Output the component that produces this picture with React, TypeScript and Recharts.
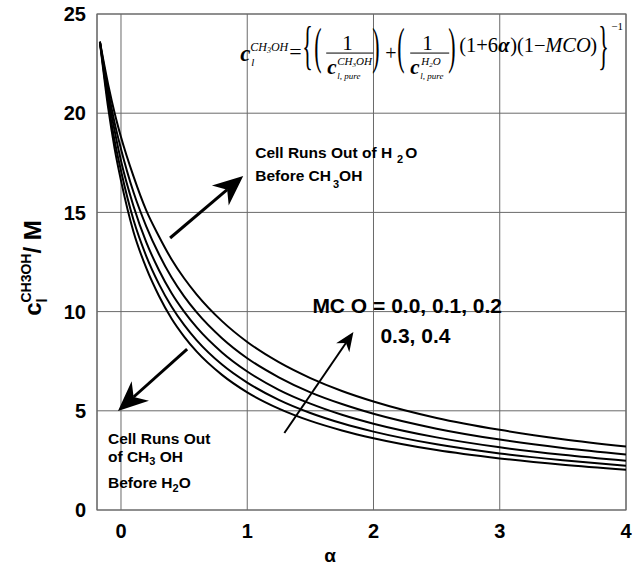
import { CartesianGrid, Line, LineChart, ReferenceArea, ReferenceDot, ReferenceLine, XAxis, YAxis } from "recharts";

// alpha values and c_l^CH3OH (M) for each MCO curve
const alpha = [-0.167, -0.1, -0.05, 0, 0.1, 0.2, 0.3, 0.4, 0.5, 0.6, 0.8, 1, 1.25, 1.5, 1.75, 2, 2.5, 3, 3.5, 4];
const mco00 = [23.6, 20.2, 18.2, 16.6, 14.0, 12.2, 10.8, 9.65, 8.74, 7.98, 6.81, 5.93, 5.11, 4.49, 4.01, 3.62, 3.02, 2.6, 2.28, 2.03];
const mco01 = [23.6, 20.5, 18.6, 17.1, 14.6, 12.8, 11.4, 10.26, 9.33, 8.55, 7.33, 6.42, 5.55, 4.89, 4.37, 3.95, 3.31, 2.85, 2.51, 2.23];
const mco02 = [23.6, 20.8, 19.1, 17.6, 15.3, 13.5, 12.1, 10.94, 10.0, 9.2, 7.94, 6.98, 6.06, 5.36, 4.8, 4.35, 3.66, 3.16, 2.78, 2.48];
const mco03 = [23.6, 21.1, 19.5, 18.2, 16.0, 14.3, 12.9, 11.73, 10.77, 9.96, 8.66, 7.65, 6.69, 5.93, 5.34, 4.85, 4.1, 3.55, 3.13, 2.8];
const mco04 = [23.6, 21.4, 20.0, 18.8, 16.8, 15.1, 13.8, 12.64, 11.68, 10.86, 9.52, 8.47, 7.45, 6.65, 6.0, 5.47, 4.64, 4.04, 3.57, 3.2];

const xTicks = [0, 1, 2, 3, 4];
const yTicks = [0, 5, 10, 15, 20, 25];
const seriesKeys = ["mco00", "mco01", "mco02", "mco03", "mco04"];

const chartData = alpha.map((a, i) => ({
  a,
  mco00: mco00[i],
  mco01: mco01[i],
  mco02: mco02[i],
  mco03: mco03[i],
  mco04: mco04[i],
}));

const SANS = "Liberation Sans, Arial, Helvetica, sans-serif";
const SERIF = "Liberation Serif, Times New Roman, serif";
const GRID = "#6a6a6a";

function arrow(width: number, len: number, half: number) {
  return (p: any) => {
    const { x1, y1, x2, y2 } = p;
    const dx = x2 - x1;
    const dy = y2 - y1;
    const l = Math.hypot(dx, dy) || 1;
    const ux = dx / l;
    const uy = dy / l;
    const nx = -uy;
    const ny = ux;
    const bx = x2 - ux * len;
    const by = y2 - uy * len;
    const kx = x2 - ux * len * 0.7;
    const ky = y2 - uy * len * 0.7;
    const pts = [
      [x2, y2],
      [bx + nx * half, by + ny * half],
      [kx, ky],
      [bx - nx * half, by - ny * half],
    ]
      .map((q) => q.join(","))
      .join(" ");
    return (
      <g>
        <line x1={x1} y1={y1} x2={kx} y2={ky} stroke="#000" strokeWidth={width} />
        <polygon points={pts} fill="#000" />
      </g>
    );
  };
}

function Tall({ x, y, ch, sy }: { x: number; y: number; ch: string; sy: number }) {
  return (
    <text transform={`translate(${x},${y}) scale(1,${sy})`} fontFamily={SERIF} fontSize={22} fill="#000">
      {ch}
    </text>
  );
}

function Formula(p: any) {
  const ox = p.cx - 232;
  const oy = p.cy - 55;
  const it = { fontFamily: SERIF, fontStyle: "italic" as const, fill: "#000" };
  const rm = { fontFamily: SERIF, fill: "#000" };
  return (
    <g transform={`translate(${ox},${oy})`}>
      <text x={240} y={61} {...it} fontWeight="bold" fontSize={23}>c</text>
      <text x={251} y={66} {...it} fontSize={11}>l</text>
      <text x={250} y={51} {...it} fontSize={12}>
        CH<tspan fontSize={8} dy={2}>3</tspan>
        <tspan dy={-2}>OH</tspan>
      </text>
      <text x={289} y={59} {...rm} fontSize={22}>=</text>
      <Tall x={302} y={63} ch="{" sy={2.4} />
      <Tall x={314} y={63} ch="(" sy={2.35} />
      <text x={342} y={50} {...rm} fontSize={21}>1</text>
      <line x1={326} x2={373} y1={53} y2={53} stroke="#000" strokeWidth={1} />
      <text x={327} y={74} {...it} fontWeight="bold" fontSize={21}>c</text>
      <text x={337} y={65} {...it} fontSize={11}>
        CH<tspan fontSize={7} dy={2}>3</tspan>
        <tspan dy={-2}>OH</tspan>
      </text>
      <text x={337} y={79} {...it} fontSize={9}>l, pure</text>
      <Tall x={372} y={63} ch=")" sy={2.35} />
      <text x={385} y={60} {...rm} fontSize={20}>+</text>
      <Tall x={397} y={63} ch="(" sy={2.35} />
      <text x={422} y={50} {...rm} fontSize={21}>1</text>
      <line x1={410} x2={449} y1={53} y2={53} stroke="#000" strokeWidth={1} />
      <text x={410} y={74} {...it} fontWeight="bold" fontSize={21}>c</text>
      <text x={421} y={65} {...it} fontSize={11}>
        H<tspan fontSize={7} dy={2}>2</tspan>
        <tspan dy={-2}>O</tspan>
      </text>
      <text x={420} y={79} {...it} fontSize={9}>l, pure</text>
      <Tall x={448} y={63} ch=")" sy={2.35} />
      <text x={459} y={52} {...rm} fontSize={20.5}>(1+6</text>
      <text x={498} y={52} {...it} fontWeight="bold" fontSize={20.5}>α</text>
      <text x={510} y={52} {...rm} fontSize={20.5}>)(1−</text>
      <text x={545} y={52} {...it} fontSize={20.5}>MCO</text>
      <text x={590} y={52} {...rm} fontSize={20.5}>)</text>
      <Tall x={598} y={63} ch="}" sy={2.4} />
      <text x={611} y={30} {...rm} fontSize={11}>−1</text>
    </g>
  );
}

const noteStyle = { fontFamily: SANS, fontWeight: "bold" as const, fontSize: 15.5, fill: "#000" };

function NoteTop(p: any) {
  return (
    <g>
      <text x={p.cx} y={p.cy} {...noteStyle}>
        Cell Runs Out of H<tspan fontSize={11} dx={5} dy={5}>2</tspan>
        <tspan dx={2} dy={-5}>O</tspan>
      </text>
      <text x={p.cx} y={p.cy + 23} {...noteStyle}>
        Before CH<tspan fontSize={11} dx={2} dy={7}>3</tspan>
        <tspan dy={-7}>OH</tspan>
      </text>
    </g>
  );
}

function NoteLow(p: any) {
  return (
    <g>
      <text x={p.cx} y={p.cy} {...noteStyle}>Cell Runs Out</text>
      <text x={p.cx} y={p.cy + 18} {...noteStyle}>
        of CH<tspan fontSize={11} dy={3}>3</tspan>
        <tspan dy={-3}> OH</tspan>
      </text>
      <text x={p.cx} y={p.cy + 44} {...noteStyle}>
        Before H<tspan fontSize={11} dy={4}>2</tspan>
        <tspan dy={-4}>O</tspan>
      </text>
    </g>
  );
}

function NoteMco(p: any) {
  const s = { fontFamily: SANS, fontWeight: "bold" as const, fontSize: 21, fill: "#000" };
  return (
    <g>
      <text x={p.cx} y={p.cy} {...s}>MC O = 0.0, 0.1, 0.2</text>
      <text x={p.cx + 68} y={p.cy + 30} {...s}>0.3, 0.4</text>
    </g>
  );
}

function YLabel(p: any) {
  const vb = p.viewBox;
  const x = vb.x + 41;
  const y = vb.y + 254;
  return (
    <text
      transform={`rotate(-90, ${x}, ${y})`}
      x={x}
      y={y}
      textAnchor="middle"
      fontFamily={SANS}
      fontWeight="bold"
      fontSize={24}
      fill="#000"
    >
      c<tspan fontSize={14} dy={6}>l</tspan>
      <tspan fontSize={14} dx={-4} dy={-16}>CH3OH</tspan>
      <tspan dy={10}>/ M</tspan>
    </text>
  );
}

function XLabel(p: any) {
  const vb = p.viewBox;
  return (
    <text x={vb.x + 233} y={vb.y + 52} textAnchor="middle" fontFamily={SANS} fontWeight="bold" fontSize={19} fill="#000">
      α
    </text>
  );
}

export default function App() {
  const tick = { fill: "#000", fontSize: 20, fontWeight: "bold" as const, fontFamily: SANS };
  return (
    <div style={{ position: "absolute", left: 0, top: 0, width: 636, height: 569, background: "#fff" }}>
      <LineChart width={636} height={569} data={chartData} margin={{ top: 14, right: 10, bottom: 19, left: 0 }}>
        <CartesianGrid stroke={GRID} strokeWidth={1} />
        <XAxis
          dataKey="a"
          type="number"
          domain={[-0.19, 4]}
          ticks={xTicks}
          allowDataOverflow
          height={40}
          tick={tick}
          tickSize={0}
          tickMargin={14}
          axisLine={false}
          label={<XLabel />}
        />
        <YAxis
          type="number"
          domain={[0, 25]}
          ticks={yTicks}
          width={97}
          tick={tick}
          tickSize={0}
          tickMargin={11}
          axisLine={false}
          label={<YLabel />}
        />
        <ReferenceArea x1={-0.19} x2={4} y1={0} y2={25} stroke={GRID} strokeWidth={1.2} fill="none" fillOpacity={0} />
        {seriesKeys.map((k) => (
          <Line key={k} type="monotone" dataKey={k} stroke="#000" strokeWidth={2} dot={false} isAnimationActive={false} />
        ))}
        <ReferenceLine segment={[{ x: 0.389, y: 13.71 }, { x: 0.968, y: 16.83 }]} shape={arrow(3, 30, 13)} />
        <ReferenceLine segment={[{ x: 0.524, y: 8.11 }, { x: -0.024, y: 4.99 }]} shape={arrow(3, 30, 13)} />
        <ReferenceLine segment={[{ x: 1.294, y: 3.88 }, { x: 1.841, y: 8.97 }]} shape={arrow(2, 19, 8)} />
        <ReferenceDot x={1.063} y={17.74} r={0} shape={<NoteTop />} />
        <ReferenceDot x={-0.103} y={3.33} r={0} shape={<NoteLow />} />
        <ReferenceDot x={1.516} y={9.93} r={0} shape={<NoteMco />} />
        <ReferenceDot x={0.881} y={22.93} r={0} shape={<Formula />} />
      </LineChart>
    </div>
  );
}
